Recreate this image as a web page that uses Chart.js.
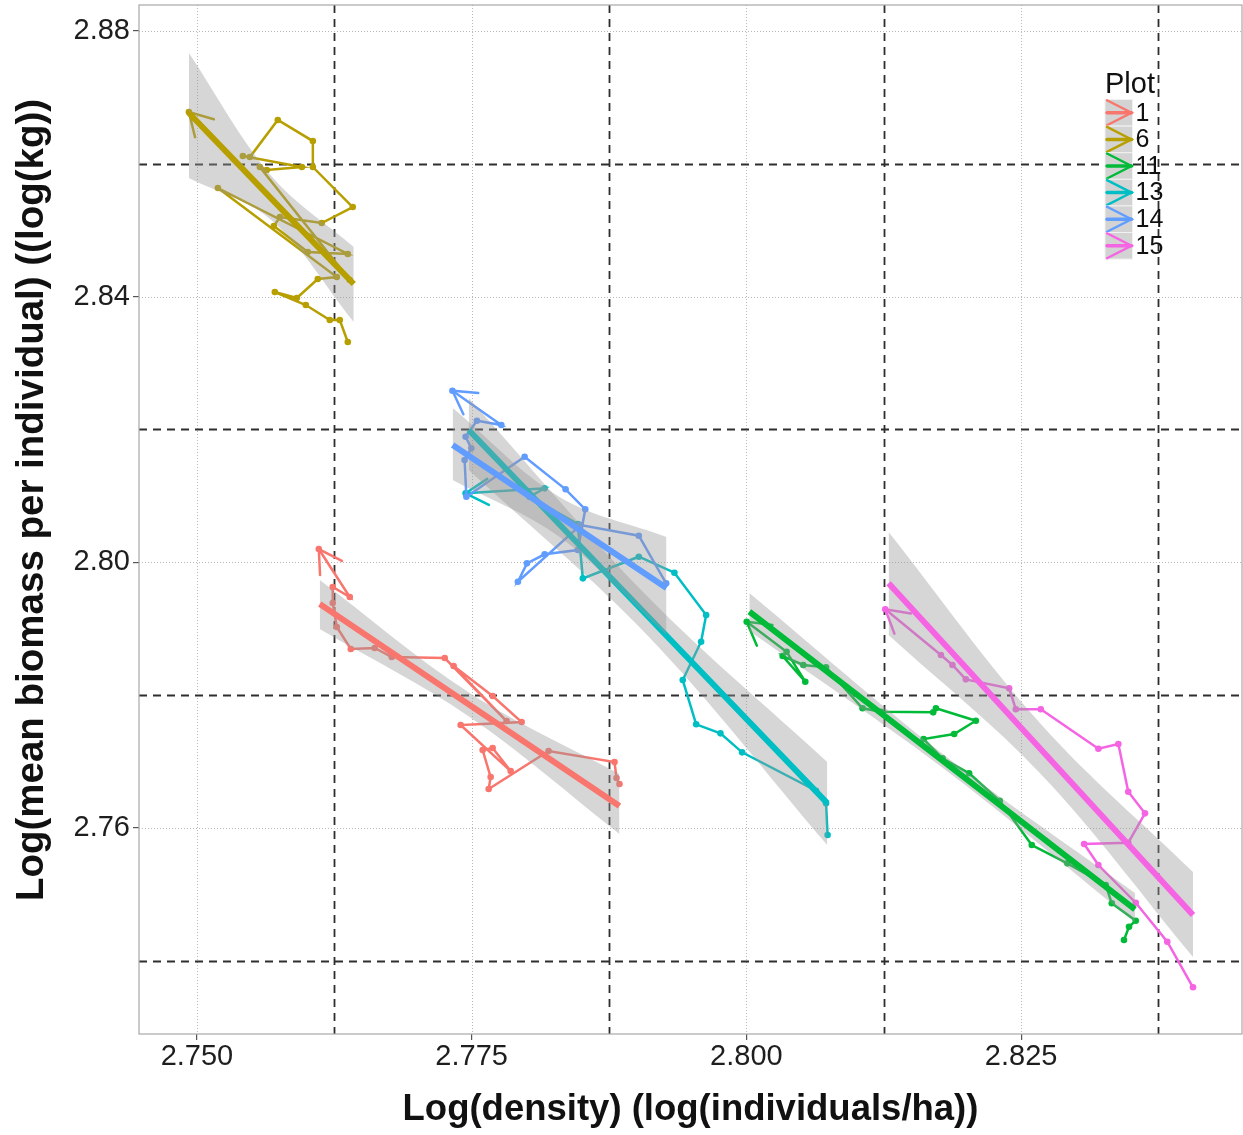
<!DOCTYPE html>
<html>
<head>
<meta charset="utf-8">
<script src="https://cdn.jsdelivr.net/npm/chart.js@4.4.1/dist/chart.umd.min.js"></script>
<style>
  html, body { margin: 0; padding: 0; background: #fff; }
</style>
</head>
<body>
<canvas id="chart" width="1243" height="1135"></canvas>
<script>
Chart.defaults.font.family = "'Liberation Sans', Arial, sans-serif"
Chart.defaults.color = "#1e1e1e"

// plots, in legend order
var plotNames = ["1", "6", "11", "13", "14", "15"]
var plotColors = ["#F8766D", "#B79F00", "#00BA38", "#00BFC4", "#619CFF", "#F564E3"]

// axis ticks (labelled = dotted lines, midpoints = dashed lines)
var xTickVals = [2.750, 2.775, 2.800, 2.825]
var xTickLabels = ["2.750", "2.775", "2.800", "2.825"]
var yTickVals = [2.76, 2.80, 2.84, 2.88]
var yTickLabels = ["2.76", "2.80", "2.84", "2.88"]
var xDashVals = [2.7625, 2.7875, 2.8125, 2.8375]
var yDashVals = [2.74, 2.78, 2.82, 2.86]

// yearly trajectories (last point gets the arrow)
var dens1 = [2.78845, 2.78818, 2.78800, 2.78200, 2.77655, 2.77673, 2.77600, 2.77691, 2.77855, 2.77400, 2.77955, 2.77691, 2.77336, 2.77818, 2.77255, 2.76773, 2.76618, 2.76400, 2.76273, 2.76236, 2.76236, 2.76391, 2.76109]
var mass1 = [2.76660, 2.76750, 2.76991, 2.77157, 2.76584, 2.76765, 2.77172, 2.77202, 2.76855, 2.77548, 2.77593, 2.77985, 2.78437, 2.77608, 2.78557, 2.78572, 2.78708, 2.78693, 2.79024, 2.79386, 2.79627, 2.79476, 2.80199]

var dens6 = [2.76373, 2.76300, 2.76209, 2.75991, 2.75709, 2.75909, 2.76100, 2.76273, 2.75191, 2.76373, 2.76009, 2.75700, 2.75755, 2.76136, 2.76418, 2.76055, 2.76055, 2.75736, 2.75482, 2.75418, 2.75955, 2.75636, 2.75573, 2.76391, 2.74927]
var mass6 = [2.83316, 2.83648, 2.83648, 2.83873, 2.84069, 2.83979, 2.84265, 2.84295, 2.85636, 2.84642, 2.84672, 2.85063, 2.85199, 2.85108, 2.85349, 2.85952, 2.86343, 2.86660, 2.86102, 2.86117, 2.85952, 2.85907, 2.85952, 2.84250, 2.86780]

var dens11 = [2.83436, 2.83482, 2.83543, 2.83325, 2.83270, 2.82921, 2.82597, 2.82306, 2.82027, 2.81785, 2.81612, 2.81891, 2.82088, 2.81725, 2.81700, 2.81225, 2.81057, 2.80725, 2.80518, 2.80330, 2.80536, 2.80366, 2.80003]
var mass11 = [2.74310, 2.74511, 2.74601, 2.74863, 2.75139, 2.75465, 2.75741, 2.76408, 2.76821, 2.77047, 2.77337, 2.77413, 2.77613, 2.77800, 2.77739, 2.77749, 2.77800, 2.78417, 2.78452, 2.78587, 2.78200, 2.78652, 2.79104]

var dens13 = [2.80739, 2.80725, 2.80634, 2.79961, 2.79764, 2.79543, 2.79421, 2.79588, 2.79634, 2.79345, 2.79021, 2.78512, 2.78466, 2.78027, 2.78164, 2.77445]
var mass13 = [2.75892, 2.76369, 2.76559, 2.77137, 2.77423, 2.77559, 2.78226, 2.78803, 2.79205, 2.79842, 2.80083, 2.79757, 2.80575, 2.80986, 2.81113, 2.81038]

var dens14 = [2.79270, 2.79021, 2.78491, 2.77921, 2.78003, 2.78164, 2.78466, 2.78534, 2.78355, 2.77982, 2.77452, 2.77436, 2.77497, 2.77445, 2.77548, 2.77770, 2.77325]
var mass14 = [2.79682, 2.80399, 2.80560, 2.79706, 2.79983, 2.80119, 2.80184, 2.80797, 2.81098, 2.81589, 2.80986, 2.81539, 2.81715, 2.81890, 2.82131, 2.82066, 2.82583]

var dens15 = [2.84064, 2.83830, 2.83543, 2.83203, 2.83073, 2.83475, 2.83627, 2.83475, 2.83385, 2.83203, 2.82679, 2.82452, 2.82391, 2.81997, 2.81875, 2.81770, 2.81264]
var mass15 = [2.73598, 2.74285, 2.74872, 2.75440, 2.75756, 2.75776, 2.76218, 2.76544, 2.77262, 2.77191, 2.77785, 2.77785, 2.78101, 2.78236, 2.78452, 2.78602, 2.79291]

// fitted lines + confidence ribbon (left end, middle, right end)
var fitDens1 = [2.76118, 2.77482, 2.78845], fitMass1 = [2.79370, 2.77849, 2.76328]
var fitLo1 = [2.78994, 2.77669, 2.75907], fitHi1 = [2.79732, 2.78030, 2.76810]
var fitDens6 = [2.74927, 2.75677, 2.76427], fitMass6 = [2.86765, 2.85477, 2.84190]
var fitLo6 = [2.85786, 2.85154, 2.83618], fitHi6 = [2.87669, 2.85816, 2.84747]
var fitDens11 = [2.80027, 2.81782, 2.83536], fitMass11 = [2.79255, 2.77014, 2.74773]
var fitLo11 = [2.78964, 2.76908, 2.74581], fitHi11 = [2.79536, 2.77119, 2.75018]
var fitDens13 = [2.77473, 2.79105, 2.80736], fitMass13 = [2.81991, 2.79182, 2.76373]
var fitLo13 = [2.81389, 2.78889, 2.75741], fitHi13 = [2.82473, 2.79476, 2.76991]
var fitDens14 = [2.77327, 2.78300, 2.79273], fitMass14 = [2.81765, 2.80688, 2.79611]
var fitLo14 = [2.81238, 2.80380, 2.78904], fitHi14 = [2.82322, 2.80982, 2.80380]
var fitDens15 = [2.81294, 2.82679, 2.84064], fitMass15 = [2.79682, 2.77184, 2.74687]
var fitLo15 = [2.78904, 2.76810, 2.74054], fitHi15 = [2.80455, 2.77563, 2.75334]

var pathDens = [dens1, dens6, dens11, dens13, dens14, dens15]
var pathMass = [mass1, mass6, mass11, mass13, mass14, mass15]
var fitDens = [fitDens1, fitDens6, fitDens11, fitDens13, fitDens14, fitDens15]
var fitMass = [fitMass1, fitMass6, fitMass11, fitMass13, fitMass14, fitMass15]
var fitLo = [fitLo1, fitLo6, fitLo11, fitLo13, fitLo14, fitLo15]
var fitHi = [fitHi1, fitHi6, fitHi11, fitHi13, fitHi14, fitHi15]

var yTitle = "Log(mean biomass per individual) ((log(kg))"
var xTitle = "Log(density) (log(individuals/ha))"

function toPoints(xs, ys){
    return xs.map((x, i) => ({x: x, y: ys[i]}))
}

// datasets pushed in drawing order: paths first, then ribbons + fits
var datasets = []
function addDataset(ds){
    ds.order = 1000 - datasets.length
    datasets.push(ds)
}
for (let i = 0; i < plotNames.length; i++){
    addDataset({
        label: plotNames[i],
        data: toPoints(pathDens[i], pathMass[i]),
        borderColor: plotColors[i],
        backgroundColor: plotColors[i],
        borderWidth: 2.5,
        pointRadius: 3.3,
        pointBorderWidth: 0,
        tension: 0,
        arrow: true
    })
}
for (let i = 0; i < plotNames.length; i++){
    addDataset({
        data: toPoints(fitDens[i], fitHi[i]),
        borderColor: "rgba(0,0,0,0)",
        backgroundColor: "rgba(153,153,153,0.4)",
        pointRadius: 0,
        tension: 0.35,
        fill: "+1"
    })
    addDataset({
        data: toPoints(fitDens[i], fitLo[i]),
        borderColor: "rgba(0,0,0,0)",
        pointRadius: 0,
        tension: 0.35,
        fill: false
    })
    addDataset({
        data: toPoints(fitDens[i], fitMass[i]),
        borderColor: plotColors[i],
        borderWidth: 6,
        borderCapStyle: "butt",
        pointRadius: 0,
        tension: 0,
        fill: false
    })
}

// dotted grid at labelled ticks, dashed lines half way between, grey border
const panelGrid = {
    id: "panelGrid",
    beforeDatasetsDraw(chart){
        const {ctx, chartArea: a, scales} = chart
        const vline = (v, col, w, dash) => {
            const px = Math.round(scales.x.getPixelForValue(v)) + 0.5
            ctx.strokeStyle = col; ctx.lineWidth = w; ctx.setLineDash(dash)
            ctx.beginPath(); ctx.moveTo(px, a.top); ctx.lineTo(px, a.bottom); ctx.stroke()
        }
        const hline = (v, col, w, dash) => {
            const py = Math.round(scales.y.getPixelForValue(v)) + 0.5
            ctx.strokeStyle = col; ctx.lineWidth = w; ctx.setLineDash(dash)
            ctx.beginPath(); ctx.moveTo(a.left, py); ctx.lineTo(a.right, py); ctx.stroke()
        }
        ctx.save()
        xTickVals.forEach(v => vline(v, "#b8b8b8", 1, [1, 2]))
        yTickVals.forEach(v => hline(v, "#b8b8b8", 1, [1, 2]))
        xDashVals.forEach(v => vline(v, "#2e2e2e", 1.8, [8, 6]))
        yDashVals.forEach(v => hline(v, "#2e2e2e", 1.8, [8, 6]))
        ctx.restore()
    },
    afterDatasetsDraw(chart){
        const {ctx, chartArea: a} = chart
        ctx.save()
        ctx.strokeStyle = "#a8a8a8"
        ctx.lineWidth = 1.2
        ctx.strokeRect(a.left, a.top, a.right - a.left, a.bottom - a.top)
        ctx.restore()
    }
}

// open arrow head at the end of every trajectory
const pathArrows = {
    id: "pathArrows",
    afterDatasetDraw(chart, args){
        const ds = chart.data.datasets[args.index]
        if (!ds.arrow) return
        const pts = args.meta.data
        const a = pts[pts.length - 2], b = pts[pts.length - 1]
        const ang = Math.atan2(b.y - a.y, b.x - a.x)
        const len = 26, spread = Math.PI / 6
        const ctx = chart.ctx
        ctx.save()
        ctx.strokeStyle = ds.borderColor
        ctx.lineWidth = ds.borderWidth
        ctx.lineCap = "round"
        ctx.beginPath()
        ctx.moveTo(b.x - len * Math.cos(ang - spread), b.y - len * Math.sin(ang - spread))
        ctx.lineTo(b.x, b.y)
        ctx.lineTo(b.x - len * Math.cos(ang + spread), b.y - len * Math.sin(ang + spread))
        ctx.stroke()
        ctx.restore()
    }
}

// ggplot style legend inside the panel + the rotated y title
const plotLegend = {
    id: "plotLegend",
    afterDraw(chart){
        const ctx = chart.ctx
        const left = 1105, top = 99.5, keyW = 27.5, keyH = 26.6
        ctx.save()
        ctx.fillStyle = "#111"
        ctx.font = "29px 'Liberation Sans', Arial, sans-serif"
        ctx.textBaseline = "alphabetic"
        ctx.fillText("Plot", left, 93)
        ctx.font = "25px 'Liberation Sans', Arial, sans-serif"
        for (let i = 0; i < plotNames.length; i++){
            const ky = top + i * keyH, cy = ky + keyH / 2
            ctx.fillStyle = "#d3d3d3"
            ctx.fillRect(left, ky, keyW, keyH)
            ctx.strokeStyle = "#f2f2f2"
            ctx.lineWidth = 1
            ctx.strokeRect(left, ky, keyW, keyH)
            ctx.strokeStyle = plotColors[i]
            ctx.lineCap = "round"
            ctx.lineWidth = 3.5
            ctx.beginPath(); ctx.moveTo(left + 2, cy); ctx.lineTo(left + keyW - 1, cy); ctx.stroke()
            ctx.lineWidth = 2.4
            ctx.beginPath()
            ctx.moveTo(left + 2, cy - 12.5)
            ctx.lineTo(left + keyW - 1, cy)
            ctx.lineTo(left + 2, cy + 12.5)
            ctx.stroke()
            ctx.fillStyle = "#111"
            ctx.textBaseline = "middle"
            ctx.fillText(plotNames[i], left + keyW + 3, cy + 1)
        }
        ctx.restore()

        ctx.save()
        ctx.translate(32, 500)
        ctx.rotate(-Math.PI / 2)
        ctx.fillStyle = "#111"
        ctx.font = "bold 38.5px 'Liberation Sans', Arial, sans-serif"
        ctx.textAlign = "center"
        ctx.textBaseline = "middle"
        ctx.fillText(yTitle, 0, 0)
        ctx.restore()
    }
}

new Chart(document.getElementById("chart"), {
    type: "line",
    data: { datasets: datasets },
    options: {
        responsive: false,
        animation: false,
        events: [],
        layout: { autoPadding: false, padding: { top: 5, right: 1, left: 0, bottom: 0 } },
        plugins: {
            legend: { display: false },
            tooltip: { enabled: false }
        },
        scales: {
            x: {
                type: "linear",
                min: 2.74473,
                max: 2.8451,
                afterBuildTicks: (s) => { s.ticks = xTickVals.map(v => ({value: v})) },
                afterFit: (s) => { s.height = 101; s.paddingLeft = 0; s.paddingRight = 0 },
                ticks: {
                    font: { size: 29, lineHeight: 1.2 },
                    color: "#1e1e1e",
                    padding: 0,
                    maxRotation: 0,
                    autoSkip: false,
                    callback: (v, i) => xTickLabels[i]
                },
                grid: { drawOnChartArea: false, tickLength: 6, color: "#555", lineWidth: 1.2 },
                border: { display: false },
                title: {
                    display: true,
                    text: xTitle,
                    color: "#111",
                    font: { size: 36.5, weight: "bold", lineHeight: 1.2 },
                    padding: { top: 0, bottom: 3 }
                }
            },
            y: {
                type: "linear",
                min: 2.72895,
                max: 2.88392,
                afterBuildTicks: (s) => { s.ticks = yTickVals.map(v => ({value: v})) },
                afterFit: (s) => { s.width = 139; s.paddingTop = 0; s.paddingBottom = 0 },
                ticks: {
                    font: { size: 29, lineHeight: 1.2 },
                    color: "#1e1e1e",
                    padding: 3,
                    autoSkip: false,
                    callback: (v, i) => yTickLabels[i]
                },
                grid: { drawOnChartArea: false, tickLength: 6, color: "#555", lineWidth: 1.2 },
                border: { display: false },
                title: { display: false }
            }
        }
    },
    plugins: [panelGrid, pathArrows, plotLegend]
})
</script>
</body>
</html>
